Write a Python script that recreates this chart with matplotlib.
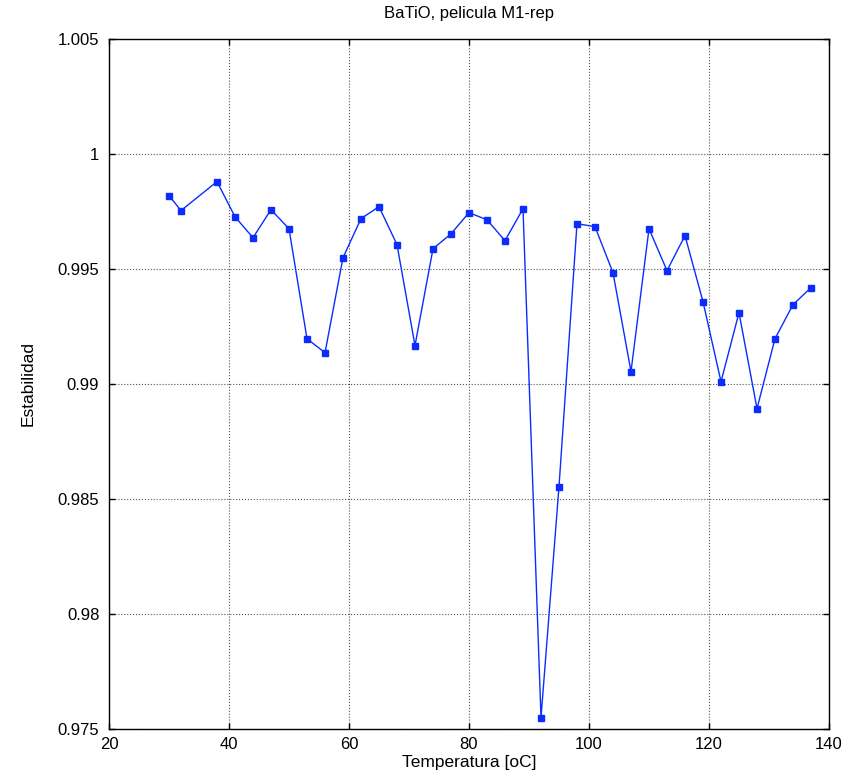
import matplotlib
matplotlib.use("Agg")
import matplotlib.pyplot as plt

temperatura = [30, 32, 38, 41, 44, 47, 50, 53, 56, 59, 62, 65, 68, 71, 74, 77, 80, 83, 86, 89,
               92, 95, 98, 101, 104, 107, 110, 113, 116, 119, 122, 125, 128, 131, 134, 137]
estabilidad = [0.99819, 0.99754, 0.99880, 0.99727, 0.99636, 0.99758, 0.99675, 0.99197, 0.99136,
               0.99549, 0.99719, 0.99771, 0.99606, 0.99167, 0.99588, 0.99653, 0.99745, 0.99714,
               0.99623, 0.99762, 0.97549, 0.98554, 0.99697, 0.99684, 0.99484, 0.99054, 0.99675,
               0.99493, 0.99645, 0.99358, 0.99010, 0.99310, 0.98893, 0.99197, 0.99345, 0.99419]
xticks = [20, 40, 60, 80, 100, 120, 140]
yticks = [0.975, 0.98, 0.985, 0.99, 0.995, 1, 1.005]
yticklabels = ["0.975", "0.98", "0.985", "0.99", "0.995", "1", "1.005"]

plt.rcParams['font.family'] = ['Liberation Sans', 'DejaVu Sans']

fig = plt.figure(figsize=(8.53, 7.79), dpi=100)
ax = fig.add_axes([109/853, 1-729/779, (829-109)/853, (729-39)/779])

ax.plot(temperatura, estabilidad, color='#0a2cff', linewidth=1.0, marker='s',
        markersize=4.5, markerfacecolor='#0a2cff', markeredgecolor='#0a2cff')

ax.set_xlim(20, 140)
ax.set_ylim(0.975, 1.005)
ax.set_xticks(xticks)
ax.set_yticks(yticks)
ax.set_yticklabels(yticklabels)
ax.tick_params(direction='in', top=True, right=True, labelsize=12, length=4, width=1)
ax.tick_params(axis='x', pad=6)
ax.tick_params(axis='y', pad=7)
ax.grid(True, color='#555555', linestyle=':', linewidth=0.8)
for s in ax.spines.values():
    s.set_linewidth(1.0)

ax.set_title('BaTiO, pelicula M1-rep', fontsize=12, pad=15)
ax.set_xlabel('Temperatura [oC]', fontsize=12.5, labelpad=2)
ax.set_ylabel('Estabilidad', fontsize=12.5, labelpad=16)

fig.savefig('out.png', dpi=100)
